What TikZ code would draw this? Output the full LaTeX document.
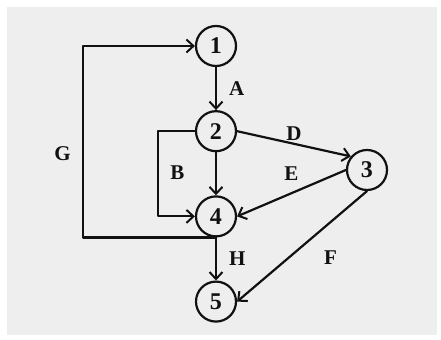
\documentclass[tikz,border=0pt]{standalone}
\usepackage{fontspec}
\setmainfont{Liberation Serif}
\usepackage{tikz}
\usetikzlibrary{arrows.meta,positioning,calc}
\definecolor{ink}{HTML}{111111}
\definecolor{paper}{HTML}{EEEEEE}

\begin{document}
\begin{tikzpicture}[
  x=0.5pt,
  y=-0.5pt,
  font=\bfseries,
  line cap=round,
  line join=round,
  >={Straight Barb[length=3.5pt,width=6.5pt,line width=1pt]},
  node distance=21.5pt,
  vtx/.style={
    circle,
    draw=ink,
    line width=1.1pt,
    minimum size=20pt,
    inner sep=0pt,
    text=ink,
    font=\fontsize{12}{12}\selectfont\bfseries,
  },
  lbl/.style={
    font=\fontsize{10.5}{10.5}\selectfont\bfseries,
    text=ink,
    inner sep=0pt,
  },
  arr/.style={
    ->,
    ink,
    line width=1.1pt,
  },
]

% --- frame ---
\useasboundingbox (0,0) rectangle (441,340);
\fill[paper] (7,7) rectangle (437,335);

% --- nodes ---
\node[vtx] (n1) at (216,46) {1};
\node[vtx, below=of n1] (n2) {2};
\node[vtx, below=of n2] (n4) {4};
\node[vtx, below=of n4] (n5) {5};
\node[vtx] (n3) at (367,170) {3};

\coordinate (gx) at (83,154);
\coordinate (bx) at (158,173);

% --- arrows ---
\draw[arr] (n1) -- node[lbl, right=6pt] {A} (n2);
\draw[arr] (n2) -- (n4);
\draw[arr] (n4) -- node[lbl, right=6pt] {H} (n5);

\draw[arr] (n2.west) -| (bx) |- (n4.west);
\node[lbl, right=6pt] at (bx) {B};

\draw[arr] (n4.south) -| (gx) |- (n1.west);
\node[lbl, left=6pt] at (gx) {G};

\draw[arr] (n2.east) -- node[lbl, above=1pt] {D} (n3.140);
\draw[arr] (n3.west) -- node[lbl, above=6pt] {E} (n4.east);
\draw[arr] (n3.south) -- node[lbl, pos=0.6, right=17pt] {F} (n5.east);

\end{tikzpicture}
\end{document}
